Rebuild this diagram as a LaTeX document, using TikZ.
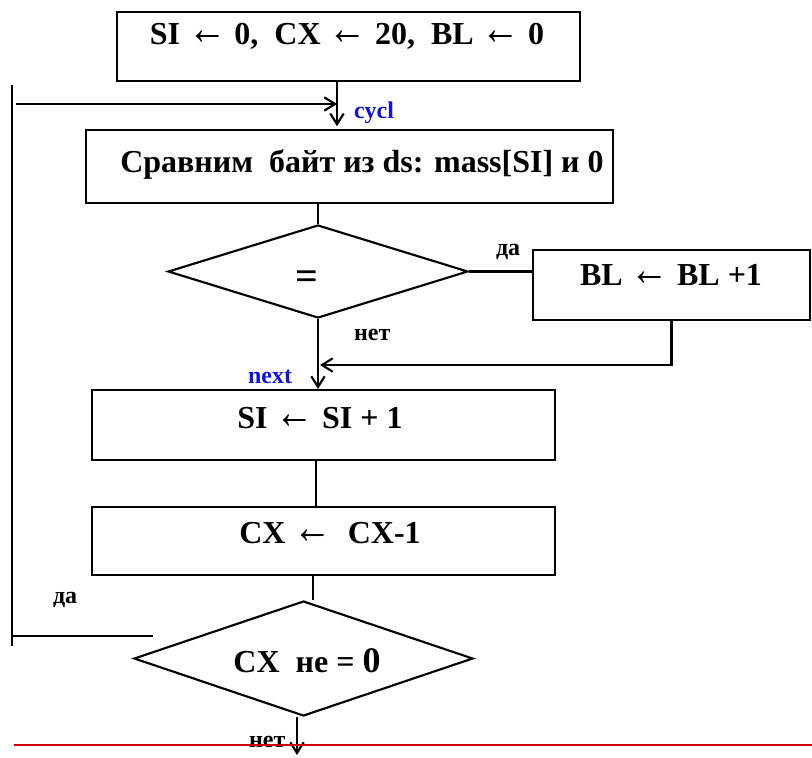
\documentclass[tikz,border=0pt]{standalone}
\usepackage{graphicx}
\usepackage{fontspec}
\setmainfont{Liberation Serif}
\usetikzlibrary{arrows.meta,shapes.geometric}
\newcommand{\lar}{\scalebox{1.2}[1.5]{←}}
\definecolor{lblblue}{RGB}{20,20,200}
\definecolor{redline}{RGB}{204,0,0}
\begin{document}
\begin{tikzpicture}[x=0.75pt,y=-0.75pt,line width=1.6pt,
  box/.style={draw,rectangle,inner sep=0pt},
  txt/.style={font=\bfseries\fontsize{24}{26}\selectfont,inner sep=0pt,anchor=base},
  lbl/.style={font=\bfseries\fontsize{18}{20}\selectfont,inner sep=0pt,anchor=base west},
  blbl/.style={lbl,text=lblblue},
  arrow/.style={-{Straight Barb[length=8pt,width=10pt]}}]
\useasboundingbox (0,0) rectangle (812,757);
% boxes
\node[box,minimum width=347.25pt,minimum height=51.75pt] (b1) at (348.5,46.5) {};
\node[box,minimum width=395.25pt,minimum height=54.75pt] (b2) at (349.5,166.5) {};
\node[draw,diamond,inner sep=0pt,minimum width=225pt,minimum height=69.75pt] (d1) at (318,271.5) {};
\node[box,minimum width=207.75pt,minimum height=52.5pt] (b3) at (671.5,285) {};
\node[box,minimum width=347.25pt,minimum height=52.5pt] (b4) at (323.5,425) {};
\node[box,minimum width=347.25pt,minimum height=51pt] (b5) at (323.5,541) {};
\node[draw,diamond,inner sep=0pt,minimum width=254.25pt,minimum height=86.25pt] (d2) at (303.5,658.5) {};
% texts
\node[txt] (t1) at (347,44) {SI \lar\ 0, \ CX \lar\ 20, \ BL \lar\ 0};
\node[txt] (t2) at (362,172) {Сравним\ \ байт из ds: mass[SI] и 0};
\node[txt,anchor=center,font=\bfseries\fontsize{30}{32}\selectfont] (t3) at (307,280) {=};
\node[txt] (t4) at (671,285) {BL \lar\ BL +1};
\node[txt] (t5) at (320,428) {SI \lar\ SI + 1};
\node[txt] (t6) at (330,543) {CX \lar\ \ CX-1};
\node[txt] (t7) at (307,672) {CX\ \ не = {\fontsize{27}{28}\selectfont 0}};
% labels
\node[blbl] (cycl) at (353,118) {cycl};
\node[blbl] (next) at (247,383) {next};
\node[lbl] (da1) at (495,255) {да};
\node[lbl] (net1) at (353,340) {нет};
\node[lbl] (da2) at (52,603) {да};
\node[lbl] (net2) at (248,747) {нет};
% coordinates
\coordinate (c1) at (337,0);
\coordinate (L1) at (12,85);
\coordinate (L2) at (12,646);
\coordinate (H1) at (16,104);
\coordinate (H2) at (12,636);
\coordinate (H3) at (153,636);
\coordinate (jn) at (320,365);
\coordinate (v4) at (316,0);
\coordinate (v5) at (313,0);
\coordinate (exit) at (297,755);
% connectors
\draw[arrow,shorten >=2pt] (b1.south -| c1) -- (b2.north -| c1);
\draw (L1) -- (L2);
\draw[arrow] (H1) -- (H1 -| c1);
\draw (H2) -- (H3);
\draw (b2.south -| d1.north) -- (d1.north);
\draw (d1.east) -- (d1.east -| b3.west);
\draw[arrow] (b3.south) |- (jn);
\draw[arrow] (d1.south) -- (d1.south |- b4.north);
\draw (b4.south -| v4) -- (b5.north -| v4);
\draw (b5.south -| v5) -- (v5 |- d2.north);
\draw[arrow] (d2.south -| exit) -- (exit);
\draw[redline,line width=1.5pt] (14,745) -- (812,745);
\end{tikzpicture}
\end{document}
